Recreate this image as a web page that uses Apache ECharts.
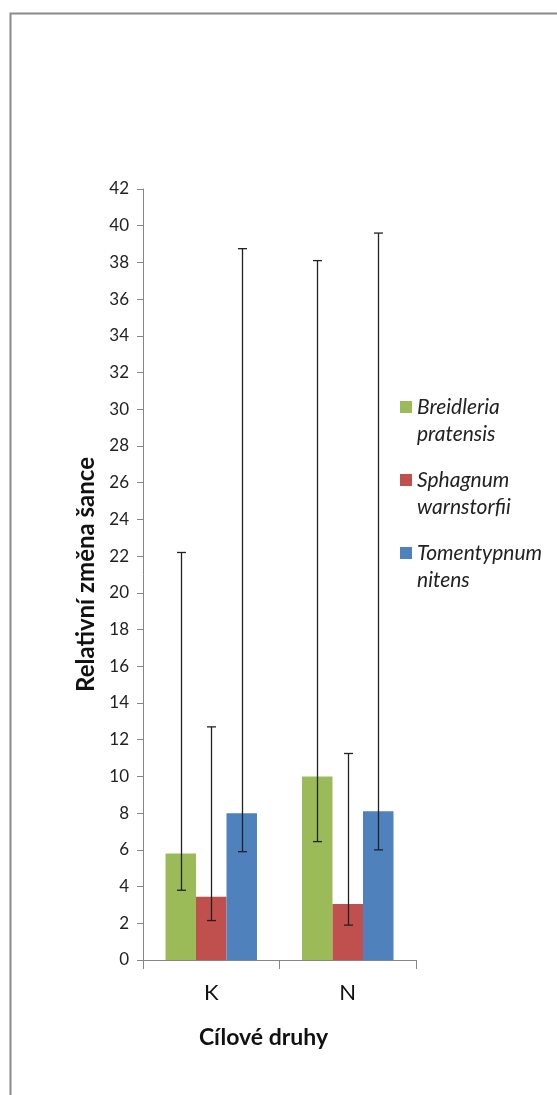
<!DOCTYPE html>
<html><head><meta charset="utf-8">
<script src="https://cdn.jsdelivr.net/npm/echarts@6/dist/echarts.min.js"></script>
<style>html,body{margin:0;padding:0;background:#fff}#c{width:557px;height:1095px}</style>
</head><body><div id="c"></div>
<script>
const categories = ['K', 'N'];
const seriesNames = ['Breidleria pratensis', 'Sphagnum warnstorfii', 'Tomentypnum nitens'];
const legendLabels = ['Breidleria\npratensis', 'Sphagnum\nwarnstorfii', 'Tomentypnum\nnitens'];
const breidleria = [5.8, 10.0];
const sphagnum = [3.45, 3.05];
const tomentypnum = [8.0, 8.1];
const breidleriaLow = [3.8, 6.45];
const breidleriaHigh = [22.2, 38.1];
const sphagnumLow = [2.15, 1.9];
const sphagnumHigh = [12.7, 11.25];
const tomentypnumLow = [5.9, 6.0];
const tomentypnumHigh = [38.75, 39.6];
const colors = ['#9BBB59', '#C0504D', '#4F81BD'];
const yTitle = 'Relativní změna šance';
const xTitle = 'Cílové druhy';

const values = [breidleria, sphagnum, tomentypnum];
const lows = [breidleriaLow, sphagnumLow, tomentypnumLow];
const highs = [breidleriaHigh, sphagnumHigh, tomentypnumHigh];
const catGap = 0.33;
const FONT = 'Lato';

const errData = [];
for (let s = 0; s < 3; s++) for (let c = 0; c < categories.length; c++) errData.push([c, lows[s][c], highs[s][c], s]);

function renderErr(params, api) {
  const c = api.value(0), s = api.value(3);
  const bw = api.size([1, 0])[0] * (1 - catGap) / 3;
  const lo = api.coord([c, api.value(1)]);
  const hi = api.coord([c, api.value(2)]);
  const x = Math.round(lo[0] + (s - 1) * bw) + 0.5;
  const cap = 4.5;
  const st = { stroke: '#222', lineWidth: 1.3 };
  return { type: 'group', children: [
    { type: 'line', shape: { x1: x, y1: lo[1], x2: x, y2: hi[1] }, style: st },
    { type: 'line', shape: { x1: x - cap, y1: lo[1], x2: x + cap, y2: lo[1] }, style: st },
    { type: 'line', shape: { x1: x - cap, y1: hi[1], x2: x + cap, y2: hi[1] }, style: st }
  ]};
}

const LH = 27;
const legendTops = [407, 480, 553];
const legends = seriesNames.map((n, i) => ({
  data: [n], orient: 'vertical', left: 400, top: legendTops[i] - 1.5 * LH, padding: 0,
  itemWidth: 12, itemHeight: 12, icon: 'rect', selectedMode: false,
  formatter: () => '\n' + legendLabels[i],
  textStyle: { fontFamily: FONT, fontStyle: 'italic', fontSize: 21, color: '#222', lineHeight: LH }
}));

const chart = echarts.init(document.getElementById('c'), null, { renderer: 'canvas' });
chart.setOption({
  animation: false,
  backgroundColor: '#fff',
  color: colors,
  graphic: [{ type: 'rect', shape: { x: 10.5, y: 13.5, width: 700, height: 1300 }, style: { fill: 'none', stroke: '#8a8a8a', lineWidth: 2 }, silent: true }],
  legend: legends,
  grid: { left: 143, right: 141, top: 189, bottom: 135 },
  xAxis: {
    type: 'category', data: categories,
    axisLine: { lineStyle: { color: '#868686', width: 1 } },
    axisTick: { show: true, length: 9, lineStyle: { color: '#868686' } },
    axisLabel: { fontFamily: FONT, fontSize: 22, color: '#111', margin: 22 },
    name: xTitle, nameLocation: 'middle', nameGap: 66,
    nameTextStyle: { fontFamily: FONT, fontWeight: 'bold', fontSize: 23, color: '#111', padding: [0, 32, 0, 0] }
  },
  yAxis: {
    type: 'value', min: 0, max: 42, interval: 2,
    axisLine: { show: true, lineStyle: { color: '#868686', width: 1 } },
    axisTick: { show: true, length: 6, lineStyle: { color: '#868686' } },
    splitLine: { show: false },
    axisLabel: { fontFamily: FONT, fontSize: 17, color: '#222', margin: 14 },
    name: yTitle, nameLocation: 'middle', nameGap: 45,
    nameTextStyle: { fontFamily: FONT, fontWeight: 'bold', fontSize: 24, color: '#111' }
  },
  series: seriesNames.map((n, i) => ({
    name: n, type: 'bar', data: values[i], barGap: '0%', barCategoryGap: (catGap * 100) + '%',
    itemStyle: { color: colors[i] }
  })).concat([{
    type: 'custom', data: errData, renderItem: renderErr, z: 10, silent: true,
    encode: { x: 0, y: [1, 2] }
  }])
});
</script></body></html>
